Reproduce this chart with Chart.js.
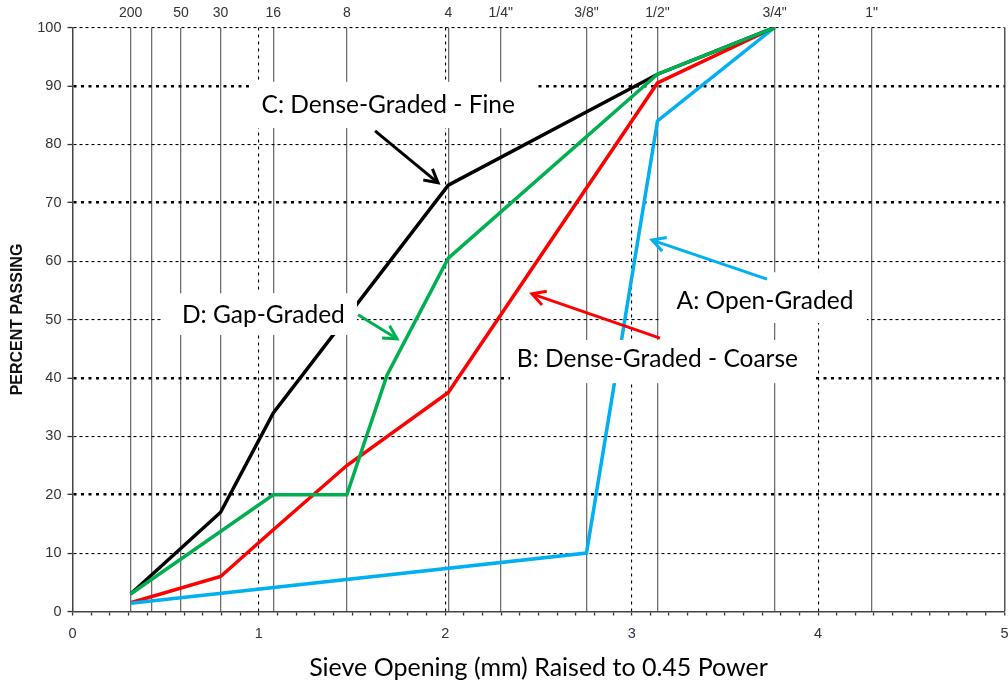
<!DOCTYPE html>
<html>
<head>
<meta charset="utf-8">
<title>Aggregate gradation curves</title>
<script src="https://cdn.jsdelivr.net/npm/chart.js@4.4.1/dist/chart.umd.min.js"></script>
<style>
  html, body { margin: 0; padding: 0; background: #fff; }
  canvas { display: block; }
</style>
</head>
<body>
<canvas id="grad" width="1008" height="686"></canvas>
<script>
// Standard sieve openings (mm) and their names on the top axis
const sieveMm     = [0.075, 0.15, 0.3, 0.6, 1.18, 2.36, 4.75, 6.35, 9.525, 12.7, 19.05, 25.4];
const sieveLabels = ['200', '', '50', '30', '16', '8', '4', '1/4"', '3/8"', '1/2"', '3/4"', '1"'];

// C: dense-graded, fine
const fineMm   = [0.075, 0.6, 1.18, 4.75, 12.7, 19.05];
const finePass = [3, 17, 34, 73, 92, 100];
// D: gap-graded
const gapMm   = [0.075, 1.18, 2.36, 3.2, 4.75, 12.7, 19.05];
const gapPass = [3, 20, 20, 40.5, 60.5, 92, 100];
// B: dense-graded, coarse
const coarseMm   = [0.075, 0.6, 1.18, 2.36, 4.75, 12.7, 19.05];
const coarsePass = [1.5, 6, 14, 25, 37.5, 90.5, 100];
// A: open-graded
const openMm   = [0.075, 9.525, 12.7, 19.05];
const openPass = [1.4, 10, 84, 100];

// Horizontal axis is the opening raised to the 0.45 power
const POWER = 0.45;
const toAxis = mm => Math.pow(mm, POWER);
const points = (mm, pass) => mm.map((m, i) => ({ x: toAxis(m), y: pass[i] }));

const boldRows = [20, 40, 70, 90];
const nearInt = v => Math.abs(v - Math.round(v)) < 1e-6;
const TICK_FONT = { family: '"Liberation Sans", Arial, sans-serif', size: 14.5 };
const NOTE_FONT = '24.5px Lato, "Open Sans", sans-serif';

// Callout boxes with labels and arrows, placed in data coordinates
const callouts = [
  { text: 'C: Dense-Graded - Fine', tx: 1.694, ty: 85.3, box: [0.952, 90.7, 2.481, 82.8],
    color: '#000000', from: [1.623, 82.3], to: [1.961, 73.4] },
  { text: 'D: Gap-Graded', tx: 1.024, ty: 49.35, box: [0.486, 54.5, 1.526, 47.35],
    color: '#00b050', from: [1.532, 50.8], to: [1.741, 46.7] },
  { text: 'A: Open-Graded', tx: 3.715, ty: 51.75, box: [3.157, 58.1, 4.262, 49.4],
    color: '#00b0f0', from: [3.726, 56.9], to: [3.109, 63.6] },
  { text: 'B: Dense-Graded - Coarse', tx: 3.138, ty: 41.82, box: [2.347, 46.5, 3.983, 39.1],
    color: '#ff0000', from: [3.152, 46.8], to: [2.465, 54.4] }
];

function drawArrow(ctx, x1, y1, x2, y2, color) {
  const a = Math.atan2(y2 - y1, x2 - x1), len = 15, spread = 0.5;
  ctx.save();
  ctx.strokeStyle = color;
  ctx.lineWidth = 3;
  ctx.lineCap = 'butt';
  ctx.lineJoin = 'miter';
  ctx.beginPath();
  ctx.moveTo(x1, y1);
  ctx.lineTo(x2, y2);
  ctx.stroke();
  ctx.beginPath();
  ctx.moveTo(x2 - len * Math.cos(a - spread), y2 - len * Math.sin(a - spread));
  ctx.lineTo(x2, y2);
  ctx.lineTo(x2 - len * Math.cos(a + spread), y2 - len * Math.sin(a + spread));
  ctx.stroke();
  ctx.restore();
}

const calloutPlugin = {
  id: 'callouts',
  afterDatasetsDraw(chart) {
    const { ctx } = chart;
    const xs = chart.scales.x, ys = chart.scales.y;
    callouts.forEach(c => {
      const bx1 = xs.getPixelForValue(c.box[0]), by1 = ys.getPixelForValue(c.box[1]);
      const bx2 = xs.getPixelForValue(c.box[2]), by2 = ys.getPixelForValue(c.box[3]);
      ctx.save();
      ctx.fillStyle = '#ffffff';
      ctx.fillRect(bx1, by1, bx2 - bx1, by2 - by1);
      ctx.fillStyle = '#000000';
      ctx.font = NOTE_FONT;
      ctx.textAlign = 'center';
      ctx.textBaseline = 'alphabetic';
      ctx.fillText(c.text, xs.getPixelForValue(c.tx), ys.getPixelForValue(c.ty));
      ctx.restore();
      drawArrow(ctx,
        xs.getPixelForValue(c.from[0]), ys.getPixelForValue(c.from[1]),
        xs.getPixelForValue(c.to[0]), ys.getPixelForValue(c.to[1]), c.color);
    });
  }
};

const lineStyle = { borderWidth: 3.5, pointRadius: 0, fill: false, tension: 0 };

// Keep the plot box fixed: no extra room for overhanging edge labels
const noSidePad = s => { s.paddingLeft = 0; s.paddingRight = 0; };

new Chart(document.getElementById('grad'), {
  type: 'line',
  data: {
    datasets: [
      { label: 'D: Gap-Graded', data: points(gapMm, gapPass), borderColor: '#00b050', ...lineStyle },
      { label: 'C: Dense-Graded - Fine', data: points(fineMm, finePass), borderColor: '#000000', ...lineStyle },
      { label: 'A: Open-Graded', data: points(openMm, openPass), borderColor: '#00b0f0', ...lineStyle },
      { label: 'B: Dense-Graded - Coarse', data: points(coarseMm, coarsePass), borderColor: '#ff0000', ...lineStyle }
    ]
  },
  options: {
    responsive: false,
    animation: false,
    devicePixelRatio: 1,
    layout: { padding: { left: 0, right: 3.5, top: 0, bottom: 0 } },
    plugins: { legend: { display: false }, tooltip: { enabled: false } },
    scales: {
      x: {
        type: 'linear', position: 'bottom', min: 0, max: 5,
        afterFit: s => { s.height = 74.5; noSidePad(s); },
        ticks: {
          stepSize: 0.1, autoSkip: false, maxRotation: 0, minRotation: 0, padding: 10,
          font: TICK_FONT, color: '#2d3440',
          callback: v => nearInt(v) ? String(Math.round(v)) : ''
        },
        grid: {
          drawOnChartArea: true, drawTicks: true, tickLength: 4,
          tickColor: '#333333', tickWidth: 1.3,
          color: c => {
            const v = c.tick.value;
            if (!nearInt(v) || v < 0.5) return 'rgba(0,0,0,0)';
            return v > 4.5 ? '#555555' : '#000000';
          },
          lineWidth: c => (c.tick.value > 4.5 ? 1.5 : 1.1)
        },
        border: {
          display: true, color: '#444444', width: 1.5,
          dash: c => (c.tick && c.tick.value < 4.5 ? [3, 4] : [])
        },
        title: {
          display: true, text: 'Sieve Opening (mm) Raised to 0.45 Power',
          font: { family: 'Lato, "Open Sans", sans-serif', size: 25 }, color: '#000000',
          padding: { top: 0, bottom: 3 }
        }
      },
      xs: {
        type: 'linear', position: 'top', min: 0, max: 5,
        afterFit: s => { s.height = 27.5; noSidePad(s); },
        afterBuildTicks: s => { s.ticks = sieveMm.map(m => ({ value: toAxis(m) })); },
        ticks: {
          autoSkip: false, maxRotation: 0, minRotation: 0, padding: 6,
          font: { family: '"Liberation Sans", Arial, sans-serif', size: 14 }, color: '#333333',
          callback: (v, i) => sieveLabels[i]
        },
        grid: { drawOnChartArea: true, drawTicks: false, color: '#6e6e6e', lineWidth: 1.3 },
        border: { display: false }
      },
      y: {
        type: 'linear', position: 'left', min: 0, max: 100,
        afterFit: s => { s.width = 72.5; s.paddingTop = 0; s.paddingBottom = 0; },
        ticks: { stepSize: 10, padding: 6, font: TICK_FONT, color: '#333333' },
        grid: {
          drawTicks: true, tickLength: 5, tickColor: '#333333', tickWidth: 1.3,
          color: c => (c.tick.value === 0 ? 'rgba(0,0,0,0)' : '#000000'),
          lineWidth: c => (boldRows.includes(c.tick.value) ? 2.6 : 1.1)
        },
        border: {
          display: true, color: '#444444', width: 1.5,
          dash: c => (c.tick ? (boldRows.includes(c.tick.value) ? [3, 4.5] : [3, 3]) : [])
        },
        title: {
          display: true, text: 'PERCENT PASSING',
          font: { family: '"Liberation Sans", Arial, sans-serif', size: 16, weight: 'bold' },
          color: '#111111', padding: { top: 8, bottom: 0 }
        }
      }
    }
  },
  plugins: [calloutPlugin]
});
</script>
</body>
</html>
